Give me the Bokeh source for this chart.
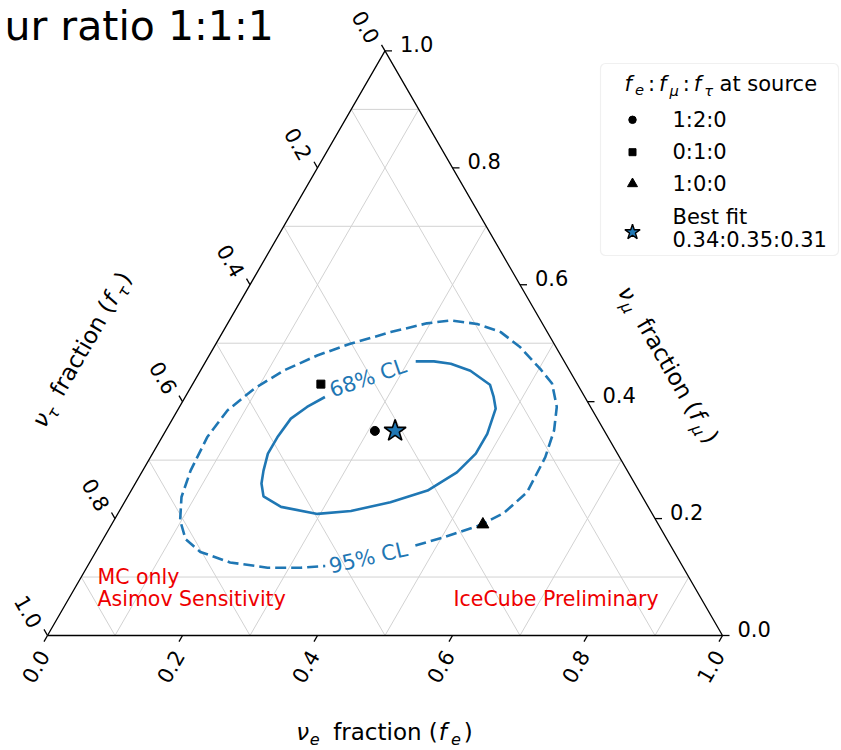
import math
from bokeh.plotting import figure
from bokeh.models import Range1d, BoxAnnotation
from bokeh.core.properties import value
from bokeh.embed import file_html
from bokeh.resources import INLINE

# ---- flavour fractions (f_e, f_mu); f_tau = 1 - f_e - f_mu ----
cl68_fe = [0.207, 0.189, 0.175, 0.171, 0.171, 0.179, 0.187, 0.201, 0.236, 0.296, 0.343,
           0.394, 0.439, 0.467, 0.479, 0.479, 0.470, 0.457, 0.441, 0.400, 0.365, 0.338, 0.311]
cl68_fmu = [0.408, 0.391, 0.371, 0.339, 0.311, 0.282, 0.260, 0.238, 0.220, 0.208, 0.213,
            0.228, 0.248, 0.279, 0.311, 0.345, 0.388, 0.408, 0.429, 0.453, 0.465, 0.469, 0.469]

cl95_fe = [0.468, 0.503, 0.545, 0.571, 0.588, 0.585, 0.575, 0.559, 0.532, 0.502, 0.454,
           0.412, 0.370, 0.328, 0.295, 0.249, 0.199, 0.160, 0.123, 0.095, 0.074, 0.067,
           0.071, 0.080, 0.098, 0.122, 0.155, 0.208, 0.268, 0.317, 0.352]
cl95_fmu = [0.154, 0.168, 0.188, 0.209, 0.245, 0.305, 0.351, 0.391, 0.431, 0.456, 0.493,
            0.519, 0.533, 0.539, 0.534, 0.519, 0.499, 0.479, 0.453, 0.422, 0.385, 0.339,
            0.282, 0.237, 0.197, 0.165, 0.143, 0.125, 0.116, 0.116, 0.119]

source_names = ["1:2:0", "0:1:0", "1:0:0"]
source_fe = [0.31, 0.19, 0.55]
source_fmu = [0.35, 0.43, 0.19]

best_fit_name = "0.34:0.35:0.31"
best_fe = 0.34
best_fmu = 0.35

tick_values = [0.0, 0.2, 0.4, 0.6, 0.8, 1.0]
tick_labels = ["0.0", "0.2", "0.4", "0.6", "0.8", "1.0"]
grid_values = [0.1, 0.3, 0.5, 0.7, 0.9]

# ---- canvas geometry ----
W, H = 841, 750
S = 675.0               # pixels per unit side of the triangle
OX, OY = 47.0, 635.0    # pixel position of the f_tau = 1 corner
R3 = math.sqrt(3) / 2
BLUE = "#1f77b4"
FONT = "DejaVu Sans"
MID = 0.346             # height of the em-box middle above the baseline, in em


def proj(fe, fmu):
    return fe + 0.5 * fmu, R3 * fmu


def projl(fes, fmus):
    pts = [proj(a, b) for a, b in zip(fes, fmus)]
    return [q[0] for q in pts], [q[1] for q in pts]


def px(x, y):
    """pixel position (from the top-left corner) -> plot coordinates"""
    return (x - OX) / S, (OY - y) / S


p = figure(width=W, height=H,
           x_range=Range1d(-OX / S, (W - OX) / S),
           y_range=Range1d((OY - H) / S, OY / S),
           x_axis_type=None, y_axis_type=None,
           output_backend="svg", toolbar_location=None,
           min_border=0, outline_line_color=None)
p.background_fill_color = "white"
p.border_fill_color = "white"

# ---- grid: three families of iso-fraction lines ----
gx, gy = [], []
for v in grid_values:
    for a, b in (((0, v), (1 - v, v)), ((v, 0), (v, 1 - v)), ((1 - v, 0), (0, 1 - v))):
        xs, ys = projl([a[0], b[0]], [a[1], b[1]])
        gx.append(xs)
        gy.append(ys)
p.multi_line(gx, gy, line_color="#d2d2d2", line_width=1)

# ---- triangle frame ----
ex, ey = projl([0, 1, 0, 0], [0, 0, 1, 0])
p.line(ex, ey, line_color="black", line_width=1.3)

# ---- ticks and tick labels ----
TL = 7.0 / S
tick_sets = {
    # axis: (tick points, tick direction, label offset in px (right, down), angle, align)
    "bottom": ([proj(v, 0.0) for v in tick_values], (-0.5, -R3), (-12, 31), 60, "center"),
    "right": ([proj(1 - v, v) for v in tick_values], (1.0, 0.0), (15, -7), 0, "left"),
    "left": ([proj(0.0, 1 - v) for v in tick_values], (-0.5, R3), (-19, -24), -60, "center"),
}
for name, (pts, (dx, dy), (ox, oy), ang, align) in tick_sets.items():
    x0 = [q[0] for q in pts]
    y0 = [q[1] for q in pts]
    p.segment(x0, y0, [x + dx * TL for x in x0], [y + dy * TL for y in y0],
              line_color="black", line_width=1.3)
    p.text([x + ox / S for x in x0], [y - oy / S for y in y0], text=tick_labels,
           angle=math.radians(ang), text_font=value(FONT), text_font_size="21px",
           text_align=align, text_baseline="middle", text_color="black")

# ---- confidence contours ----
x68, y68 = projl(cl68_fe, cl68_fmu)
p.line(x68, y68, line_color=BLUE, line_width=2.6)
x95, y95 = projl(cl95_fe, cl95_fmu)
p.line(x95, y95, line_color=BLUE, line_width=2.6, line_dash="11 5")

for lbl, fe, fmu, ang in (("68% CL", 0.2545, 0.4405, 19), ("95% CL", 0.4086, 0.1329, 13)):
    lx, ly = proj(fe, fmu)
    p.text([lx], [ly], text=[lbl], angle=math.radians(ang), text_font=value(FONT),
           text_font_size="21px", text_align="center", text_baseline="middle",
           text_color=BLUE)

# ---- source compositions and best fit ----
marker_style = {"1:2:0": ("circle", 9, 7.5), "0:1:0": ("square", 8, 7), "1:0:0": ("triangle", 12, 10)}
for name, fe, fmu in zip(source_names, source_fe, source_fmu):
    mk, sz, _ = marker_style[name]
    sx, sy = proj(fe, fmu)
    p.scatter([sx], [sy], marker=mk, size=sz, color="black")
bx, by = proj(best_fe, best_fmu)
p.scatter([bx], [by], marker="star", size=23, fill_color=BLUE, line_color="black", line_width=1.6)

# ---- text helper with sub-scripted pieces ----
EM = {' ': 0.318, '(': 0.390, ')': 0.390, '.': 0.318, ':': 0.337, '%': 0.950,
      'a': 0.613, 'c': 0.550, 'e': 0.615, 'f': 0.352, 'i': 0.278, 'n': 0.634,
      'o': 0.612, 'r': 0.411, 's': 0.521, 't': 0.392, 'u': 0.634,
      'ν': 0.592, 'μ': 0.636, 'τ': 0.567}


def rich(parts, x, y, size, angle=0.0, anchor="center", color="black"):
    """Draw a run of text pieces; (x, y) is the pixel position of the run's middle line."""
    a = math.radians(angle)
    ux, uy = math.cos(a), math.sin(a)
    nx, ny = -uy, ux
    sub = 0.7 * size

    def width(part):
        if isinstance(part, (int, float)):
            return part
        t, st = part
        return sum(EM.get(c, 0.6) for c in t) * (sub if st == "s" else size)

    total = sum(width(q) for q in parts)
    d = -total / 2 if anchor == "center" else 0.0
    bx0, by0 = px(x, y)
    for part in parts:
        if not isinstance(part, (int, float)):
            t, st = part
            fs = sub if st == "s" else size
            # offset of this piece's middle line from the run's middle line
            shift = (-MID * size - 0.22 * size + MID * fs) if st == "s" else 0.0
            X = bx0 + (d * ux + shift * nx) / S
            Y = by0 + (d * uy + shift * ny) / S
            p.text([X], [Y], text=[t], angle=a, text_font=value(FONT),
                   text_font_size=f"{fs:.1f}px",
                   text_font_style=value("italic" if st in ("i", "s") else "normal"),
                   text_align="left", text_baseline="middle", text_color=color)
        d += width(part)


def axis_title(sym, x, y, angle=0.0):
    rich([("ν", "i"), (sym, "s"), 13.5, ("fraction", "n"), 7.3, ("(", "n"), 1.0,
          ("f", "i"), 4.0, (sym, "s"), 3.0, (")", "n")], x, y, 23, angle=angle)


# ---- axis titles ----
axis_title("e", 384, 731)
axis_title("τ", 81, 349, angle=60)
axis_title("μ", 668, 364, angle=-60)

# ---- legend ----
l0, t0 = px(600, 63)
r0, b0 = px(838, 255)
p.add_layout(BoxAnnotation(left=l0, right=r0, top=t0, bottom=b0, fill_color="white",
                           fill_alpha=0.85, line_color="#cccccc", line_width=1.2,
                           border_radius=5, level="underlay"))
rich([("f", "i"), 3, ("e", "s"), 4, (":", "n"), 4, ("f", "i"), 3, ("μ", "s"), 4, (":", "n"), 4,
      ("f", "i"), 3, ("τ", "s"), 7, ("at source", "n")], 624, 83, 21, anchor="left")

entry_rows = [119.3, 151.7, 183.3]
for name, ry in zip(source_names, entry_rows):
    mk, _, lsz = marker_style[name]
    mx, my = px(632, ry)
    p.scatter([mx], [my], marker=mk, size=lsz, color="black")
    tx, ty = px(672, ry)
    p.text([tx], [ty], text=[name], text_font=value(FONT), text_font_size="21px",
           text_align="left", text_baseline="middle", text_color="black")
mx, my = px(632, 231.7)
p.scatter([mx], [my], marker="star", size=16, fill_color=BLUE, line_color="black", line_width=1.4)
for t, ry in (("Best fit", 216.5), (best_fit_name, 239.5)):
    tx, ty = px(672, ry)
    p.text([tx], [ty], text=[t], text_font=value(FONT), text_font_size="21px",
           text_align="left", text_baseline="middle", text_color="black")

# ---- annotations ----
for t, x, y in (("MC only", 97, 576), ("Asimov Sensitivity", 97, 598.5),
                ("IceCube Preliminary", 453, 598.5)):
    tx, ty = px(x, y)
    p.text([tx], [ty], text=[t], text_font=value(FONT), text_font_size="20.5px",
           text_align="left", text_baseline="middle", text_color="#ee0000")

tx, ty = px(4, 25.5)
p.text([tx], [ty], text=["ur ratio 1:1:1"], text_font=value(FONT), text_font_size="41px",
       text_align="left", text_baseline="middle", text_color="black")

open("out.html", "w").write(file_html(p, INLINE))
